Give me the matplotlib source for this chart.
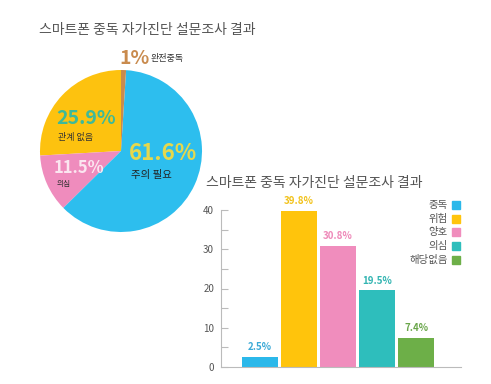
import matplotlib.pyplot as plt

plt.rcParams['font.family'] = ['Noto Sans CJK KR', 'DejaVu Sans']

# pie data (counter-clockwise from 12 o'clock)
pie_labels = ['관계 없음', '의심', '주의 필요', '완전중독']
pie_values = [25.9, 11.5, 61.6, 1.0]
pie_colors = ['#FDC20F', '#EF8CBD', '#2DBEEE', '#C98B4E']

# bar data
bar_labels = ['중독', '위험', '양호', '의심', '해당없음']
bar_values = [2.5, 39.8, 30.8, 19.5, 7.4]
bar_colors = ['#2BB8EA', '#FFC40C', '#F08DBD', '#2EBEBC', '#6DAF48']
bar_text_colors = ['#3AA9D6', '#F2C21A', '#EE88B8', '#33B5B2', '#6AA64A']

title = '스마트폰 중독 자가진단 설문조사 결과'
W, H = 491, 384

fig = plt.figure(figsize=(W / 100, H / 100), dpi=100)


def fx(px):
    return px / W


def fy(py):
    return 1 - py / H


# ---- pie ----
ax1 = fig.add_axes([fx(40), fy(232), fx(162), 162 / H])
ax1.pie(pie_values, colors=pie_colors, startangle=90, counterclock=True,
        wedgeprops=dict(linewidth=0))
ax1.set_xlim(-1, 1)
ax1.set_ylim(-1, 1)
ax1.set_aspect('equal')
ax1.axis('off')

fig.text(fx(39), fy(30), title, fontsize=10, color='#555555', va='center')

fig.text(fx(56), fy(118), f'{pie_values[0]}%', fontsize=14, fontweight='bold',
         color='#3DB99A', va='center')
fig.text(fx(58), fy(137), pie_labels[0], fontsize=6.5, color='#333333', va='center')
fig.text(fx(54), fy(168), f'{pie_values[1]}%', fontsize=12, fontweight='bold',
         color='#FBE6F0', va='center')
fig.text(fx(57), fy(184), pie_labels[1], fontsize=5.5, color='#333333', va='center')
fig.text(fx(129), fy(153), f'{pie_values[2]}%', fontsize=16, fontweight='bold',
         color='#E6D84C', va='center')
fig.text(fx(131), fy(175), pie_labels[2], fontsize=7.5, color='#222222', va='center')
fig.text(fx(119), fy(58), f'{pie_values[3]:.0f}%', fontsize=14, fontweight='bold',
         color='#C98B4E', va='center')
fig.text(fx(151), fy(58), pie_labels[3], fontsize=6.5, color='#333333', va='center')

# ---- bars ----
ax2 = fig.add_axes([fx(221), fy(367), fx(240), 157 / H])
x = list(range(len(bar_values)))
ax2.bar(x, bar_values, width=0.92, color=bar_colors, linewidth=0)
ax2.set_xlim(-1.0, 5.15)
ax2.set_ylim(0, 40)
ax2.set_yticks([0, 10, 20, 30, 40])
ax2.set_yticks([5, 15, 25, 35], minor=True)
ax2.set_xticks([])
ax2.tick_params(axis='y', which='both', direction='in', length=5, width=0.8,
                color='#BBBBBB', labelsize=7, labelcolor='#555555', pad=5)
for s in ['top', 'right']:
    ax2.spines[s].set_visible(False)
for s in ['left', 'bottom']:
    ax2.spines[s].set_color('#BBBBBB')
    ax2.spines[s].set_linewidth(0.8)

for xi, v, c in zip(x, bar_values, bar_text_colors):
    ax2.text(xi, v + 1.2, f'{v}%', ha='center', va='bottom', fontsize=7,
             fontweight='bold', color=c, clip_on=False)

fig.text(fx(206), fy(183), title, fontsize=10, color='#555555', va='center')

# legend
leg_y = [205, 219, 232, 246, 260]
for lab, c, yy in zip(bar_labels, bar_colors, leg_y):
    fig.text(fx(448), fy(yy), lab, fontsize=7.5, color='#555555', ha='right', va='center')
    fig.patches.append(plt.Rectangle((fx(452), fy(yy) - 4 / H), fx(8), 8 / H,
                                     transform=fig.transFigure, color=c,
                                     figure=fig))

fig.savefig('out.png', dpi=100)
